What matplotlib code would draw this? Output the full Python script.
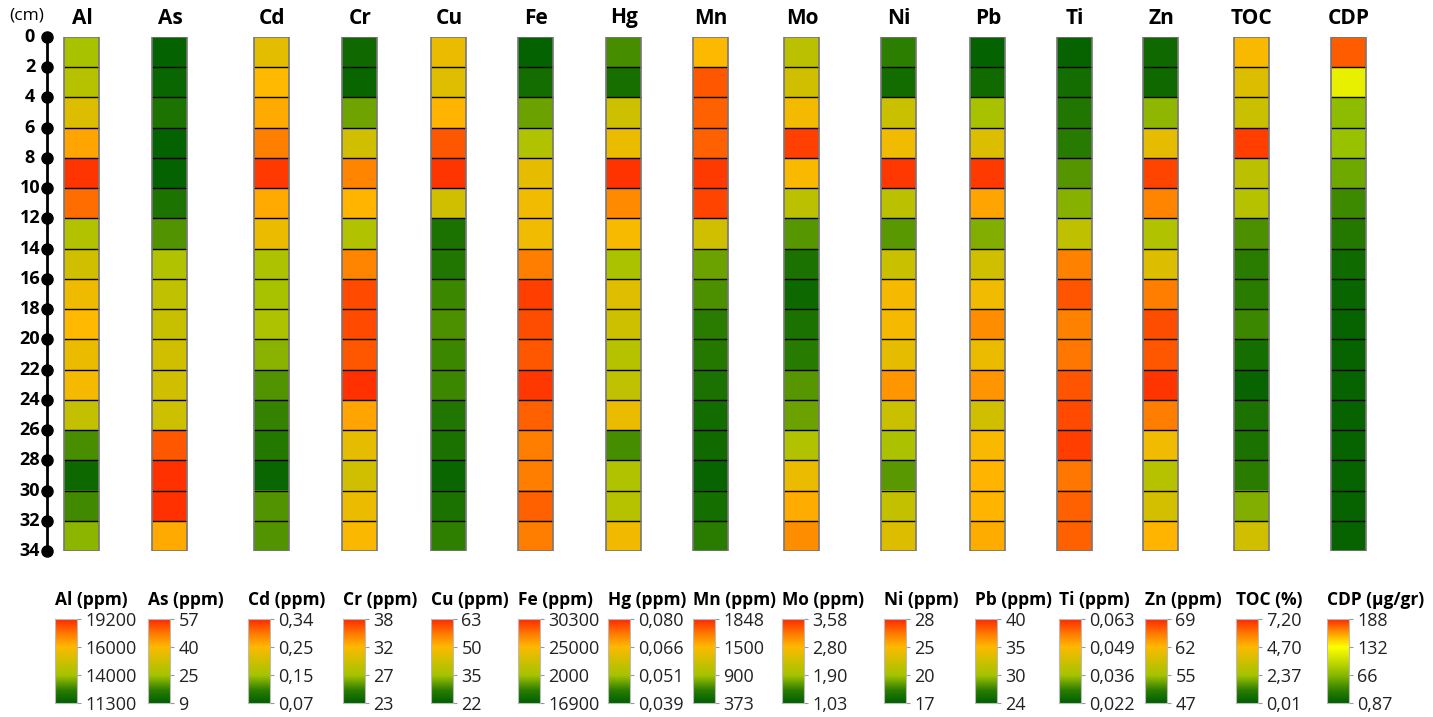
import matplotlib
matplotlib.use('Agg')
import matplotlib.pyplot as plt
import numpy as np
from matplotlib.colors import LinearSegmentedColormap
from matplotlib.patches import Rectangle

plt.rcParams['font.family'] = ['Open Sans', 'DejaVu Sans']

# depth intervals (cm), 2 cm slices
depth_ticks = list(range(0, 36, 2))

names = ['Al', 'As', 'Cd', 'Cr', 'Cu', 'Fe', 'Hg', 'Mn', 'Mo', 'Ni', 'Pb', 'Ti', 'Zn', 'TOC', 'CDP']
units = ['ppm'] * 13 + ['%', 'µg/gr']

# values per 2 cm slice, top (0-2 cm) to bottom (32-34 cm)
Al = [14100, 14400, 15300, 16500, 18900, 17800, 14300, 15000, 15700, 16000, 15600, 15800, 14700, 12900, 11700, 12800, 13700]
As = [10, 11, 14, 10, 10, 14, 19, 27, 30, 31, 32.5, 32.5, 32, 52, 56, 56, 42]
Cd = [0.22, 0.25, 0.26, 0.29, 0.33, 0.26, 0.23, 0.16, 0.155, 0.16, 0.14, 0.12, 0.11, 0.10, 0.08, 0.12, 0.12]
Cr = [23.7, 23.4, 26, 29.5, 34.4, 32.2, 27.7, 34.4, 36.7, 36.7, 36.2, 37.6, 33, 30.7, 29.5, 31, 31.8]
Cu = [47, 45, 50.5, 59.1, 61.8, 42.5, 25.9, 26.7, 29, 29.8, 29, 29, 26.7, 25.9, 23.6, 25.9, 28.2]
Fe = [17100, 17600, 19200, 20700, 23700, 24300, 24300, 27400, 29500, 29000, 28700, 29800, 28400, 27400, 27400, 28400, 27400]
Hg = [0.046, 0.042, 0.058, 0.063, 0.079, 0.071, 0.065, 0.052, 0.061, 0.058, 0.054, 0.056, 0.063, 0.046, 0.053, 0.054, 0.064]
Mn = [1490, 1744, 1723, 1723, 1806, 1785, 1200, 768, 689, 610, 579, 531, 484, 468, 420, 500, 610]
Mo = [2.13, 2.35, 2.70, 3.46, 2.75, 2.13, 1.60, 1.29, 1.16, 1.29, 1.40, 1.60, 1.68, 2.03, 2.62, 2.88, 3.06]
Ni = [18.4, 17.6, 22.2, 24.3, 27.7, 21.3, 19, 22.2, 24.5, 24.5, 23.7, 25.8, 22.2, 20.4, 19, 21.8, 23.3]
Pb = [24.4, 25.1, 30.2, 33.2, 39.4, 35.8, 29, 32.5, 34.3, 36.7, 34, 36.4, 32.5, 34.7, 35.2, 35.2, 35.5]
Ti = [0.023, 0.025, 0.027, 0.028, 0.031, 0.034, 0.040, 0.055, 0.059, 0.055, 0.056, 0.059, 0.060, 0.061, 0.056, 0.058, 0.058]
Zn = [48.4, 48.4, 54.2, 60.2, 67.7, 64.8, 56, 59.5, 65.2, 67.3, 66.9, 68.4, 65.2, 61, 56.4, 58.9, 62.3]
TOC = [4.58, 3.88, 3.39, 6.83, 2.98, 2.84, 1.43, 1.07, 1.07, 1.28, 0.58, 0.22, 0.72, 0.72, 1.07, 1.99, 3.54]
CDP = [175, 119, 69, 75, 56, 36, 24, 11, 7, 5, 5, 5, 5, 5, 5, 5, 5]
series = [Al, As, Cd, Cr, Cu, Fe, Hg, Mn, Mo, Ni, Pb, Ti, Zn, TOC, CDP]

# legend levels (bottom to top) and their printed labels
levels = [
    [11300, 14000, 16000, 19200],
    [9, 25, 40, 57],
    [0.07, 0.15, 0.25, 0.34],
    [23, 27, 32, 38],
    [22, 35, 50, 63],
    [16900, 20000, 25000, 30300],
    [0.039, 0.051, 0.066, 0.080],
    [373, 900, 1500, 1848],
    [1.03, 1.90, 2.80, 3.58],
    [17, 20, 25, 28],
    [24, 30, 35, 40],
    [0.022, 0.036, 0.049, 0.063],
    [47, 55, 62, 69],
    [0.01, 2.37, 4.70, 7.20],
    [0.87, 66, 132, 188],
]
level_labels = [
    ['11300', '14000', '16000', '19200'],
    ['9', '25', '40', '57'],
    ['0,07', '0,15', '0,25', '0,34'],
    ['23', '27', '32', '38'],
    ['22', '35', '50', '63'],
    ['16900', '2000', '25000', '30300'],
    ['0,039', '0,051', '0,066', '0,080'],
    ['373', '900', '1500', '1848'],
    ['1,03', '1,90', '2,80', '3,58'],
    ['17', '20', '25', '28'],
    ['24', '30', '35', '40'],
    ['0,022', '0,036', '0,049', '0,063'],
    ['47', '55', '62', '69'],
    ['0,01', '2,37', '4,70', '7,20'],
    ['0,87', '66', '132', '188'],
]

cmap = LinearSegmentedColormap.from_list('gyr', [
    (0.0, '#005f00'), (0.15, '#2a7d00'), (0.33, '#a5c300'), (0.5, '#cfc000'),
    (0.67, '#ffb900'), (0.83, '#ff7a00'), (1.0, '#ff2800')])
cmap_cdp = LinearSegmentedColormap.from_list('cdp', [
    (0.0, '#005f00'), (0.15, '#2f8000'), (0.33, '#86b800'), (0.5, '#c8dc00'),
    (0.67, '#ffff00'), (0.83, '#ffa000'), (1.0, '#ff2800')])

# layout (pixels)
W, H = 1433, 717
col_x = [82, 170, 272, 360, 449, 536, 624, 711, 802, 899, 988, 1075, 1161, 1252, 1349]
bar_left = [55, 148, 248, 343, 431, 518, 608, 693, 782, 884, 975, 1059, 1145, 1236, 1327]
top_px, bot_px = 37, 551
half = 17.5

fig = plt.figure(figsize=(W / 100, H / 100), dpi=100)
ax = fig.add_axes([0, 1 - bot_px / H, 1, (bot_px - top_px) / H])
ax.set_xlim(0, W)
ax.set_ylim(34, 0)
ax.axis('off')

px_per_cm = (bot_px - top_px) / 34.0

# depth scale
ax.plot([47, 47], [0, 34], color='black', lw=2, clip_on=False)
ax.plot([47] * len(depth_ticks), depth_ticks, 'o', color='black', ms=8, clip_on=False)
for d in depth_ticks:
    ax.text(30, d, str(d), ha='center', va='center', fontsize=13,
            fontweight='bold', clip_on=False)
ax.text(27, -21 / px_per_cm, '(cm)', ha='center', va='center',
        fontsize=12.5, clip_on=False)

edges = np.array(depth_ticks, dtype=float)
for x, name, vals, lev in zip(col_x, names, series, levels):
    cm = cmap_cdp if name == 'CDP' else cmap
    p = np.interp(vals, lev, [0, 1 / 3, 2 / 3, 1])
    ax.imshow(np.array(p)[:, None], cmap=cm, vmin=0, vmax=1, aspect='auto',
              interpolation='nearest', extent=[x - half, x + half, 34, 0], zorder=1)
    ax.hlines(edges[1:-1], x - half, x + half, color='black', lw=1, zorder=2)
    ax.add_patch(Rectangle((x - half, 0), 2 * half, 34, fill=False, ec='#777777',
                           lw=1.2, zorder=3))
    ax.text(x, -19 / px_per_cm, name, ha='center', va='center', fontsize=15,
            fontweight='bold', clip_on=False)

# legends
grad = np.linspace(0, 1, 256)[:, None]
for left, name, unit, labs in zip(bar_left, names, units, level_labels):
    cm = cmap_cdp if name == 'CDP' else cmap
    cax = fig.add_axes([left / W, 1 - 703 / H, 22 / W, 84 / H])
    cax.imshow(grad, cmap=cm, origin='lower', aspect='auto', extent=[0, 1, 0, 1])
    cax.set_xticks([])
    cax.set_yticks([0, 1 / 3, 2 / 3, 1])
    cax.set_yticklabels(labs, fontsize=13, color='#222222')
    cax.yaxis.tick_right()
    cax.tick_params(axis='y', length=3, width=0.8, color='#999999', pad=3)
    for s in cax.spines.values():
        s.set_color('#bbbbbb')
        s.set_linewidth(0.8)
    fig.text(left / W, 1 - 600 / H, f'{name} ({unit})', ha='left', va='center',
             fontsize=12.5, fontweight='bold')

fig.savefig('out.png', dpi=100)
